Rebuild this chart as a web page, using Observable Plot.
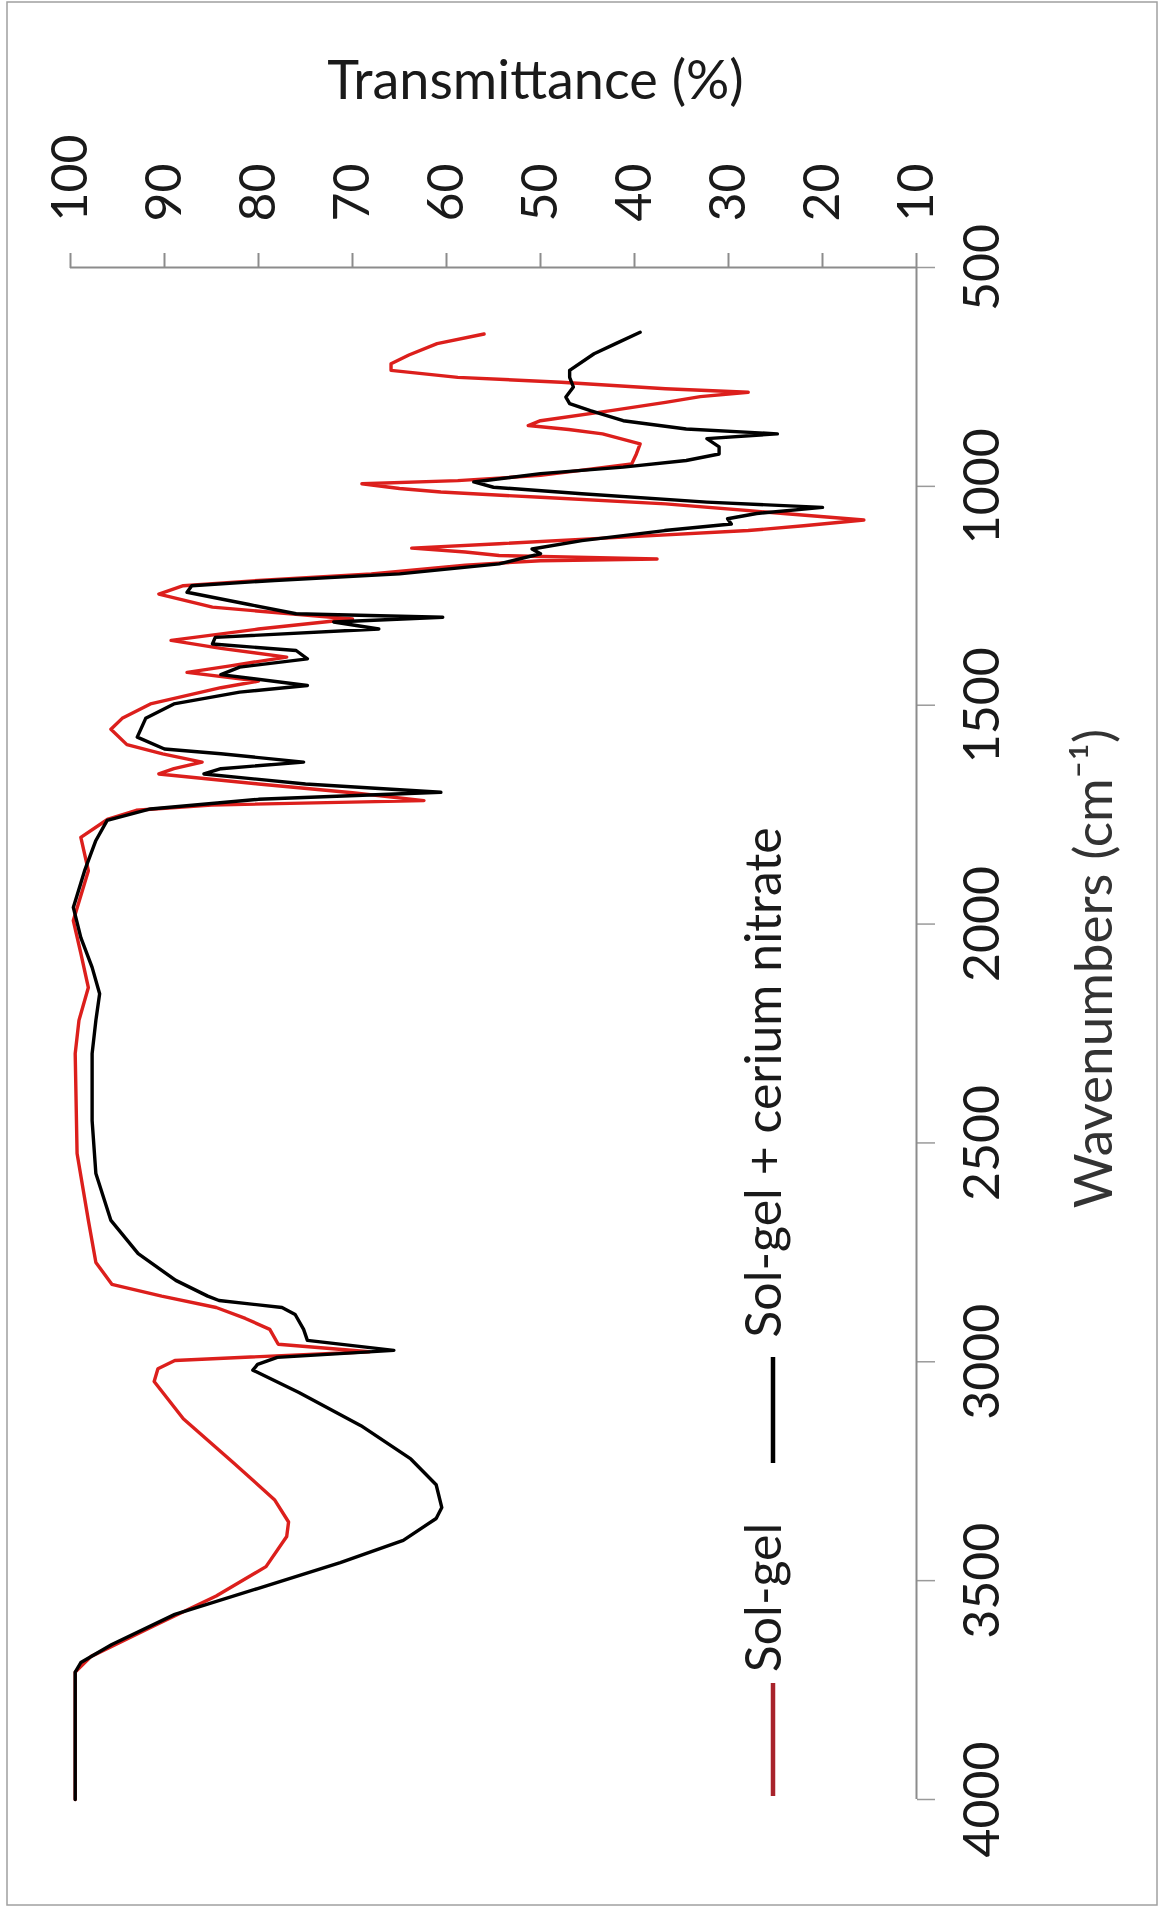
<!DOCTYPE html>
<html><head><meta charset="utf-8">
<script src="https://cdn.jsdelivr.net/npm/d3@7"></script>
<script src="https://cdn.jsdelivr.net/npm/@observablehq/plot@0.6"></script>
<style>html,body{margin:0;padding:0;background:#fff;} #chart{width:1161px;height:1910px;}</style>
</head><body><div id="chart"></div>
<script>
// Axis ticks
const transTicks = [100, 90, 80, 70, 60, 50, 40, 30, 20, 10];
const waveTicks = [500, 1000, 1500, 2000, 2500, 3000, 3500, 4000];

// Series names / colours
const seriesNames = ["Sol-gel", "Sol-gel + cerium nitrate"];
const seriesColors = ["#dc1f1c", "#000000"];

// Sol-gel (red): wavenumber (cm-1) and transmittance (%)
const solGelWn = [652,674,700,720,735,751,762,777,785,795,808,827,850,861,870,880,903,926,949,975,987,994,1005,1013,1025,1040,1063,1077,1090,1101,1116,1131,1141,1150,1158,1166,1170,1180,1200,1215,1227,1246,1276,1303,1326,1352,1370,1390,1410,1425,1445,1460,1497,1530,1555,1590,1611,1630,1645,1657,1680,1700,1718,1728,1740,1760,1802,1878,1992,2067,2145,2220,2296,2524,2677,2773,2823,2850,2876,2901,2926,2960,2977,2997,3016,3045,3130,3230,3315,3366,3399,3468,3535,3603,3673,3709,4000];
const solGelT = [56.0,61.0,64,65.9,65.9,58.8,47.8,36.7,27.9,33,36.7,42.5,50.0,51.3,47,43.4,39.4,39.8,40.3,50.0,58.8,69.0,65,60.6,50.0,36.7,23.5,15.6,22,27.9,41.2,54.4,63.7,58,54.4,37.6,50,58,68,80,88,90.6,84.9,70,80,89.3,84,77,83,87.6,80,84,91.5,94.5,95.7,94,90.2,86,89,90.6,80,70,62.4,85,93,96,98.9,98.1,99.7,98.9,98.1,99.1,99.5,99.3,98.1,97.3,95.6,90.3,84.5,81.4,78.8,77.9,68.2,88.9,90.7,91.1,88.0,82.7,78.3,76.8,77.0,79.2,84.5,91.1,97.8,99.5,99.5];

// Sol-gel + cerium nitrate (black)
const ceriumWn = [648,674,697,735,751,773,796,811,827,850,869,880,891,910,926,941,956,971,990,1002,1017,1036,1048,1062,1074,1086,1101,1124,1143,1154,1177,1200,1215,1227,1242,1270,1291,1299,1310,1326,1345,1360,1375,1394,1413,1430,1455,1470,1497,1530,1573,1600,1611,1630,1645,1657,1680,1699,1715,1737,1763,1809,1878,1962,2031,2099,2159,2220,2296,2449,2570,2677,2753,2814,2850,2860,2876,2892,2926,2951,2974,2990,3006,3019,3070,3146,3222,3281,3333,3358,3408,3459,3518,3577,3646,3687,3709,4000];
const ceriumT = [39.4,42.0,44.3,46.9,46.9,46.5,47.3,46.9,44.7,41.2,34.5,24.8,32.3,31.0,31.0,34.5,41.2,50.0,57.1,55,45.6,32.3,20.0,27,30.1,29.7,36.8,45.6,50.9,50.0,54.4,65,78.3,87.1,87.6,81,76,60.4,72,67.2,84.6,84.9,76,74.8,82,84,74.8,82,89,92,92.9,90,84,75.2,84,85.8,75,60.6,80,91.5,96.1,97.3,98.5,99.7,98.9,97.7,96.9,97.3,97.7,97.7,97.3,95.7,92.8,88.8,85.4,84.2,77.5,76.1,75.2,74.8,65.6,78,80.1,80.6,75.7,69.1,63.8,61.1,60.5,61.1,64.6,71.3,80.1,88.9,95.6,98.9,99.5,99.5];

const solGel = solGelWn.map((w, i) => ({w, t: solGelT[i]}));
const cerium = ceriumWn.map((w, i) => ({w, t: ceriumT[i]}));

const font = "Lato, sans-serif";
const ink = "#1a1a1a";
const axisGray = "#8c8c8c";

const chart = Plot.plot({
  width: 1161,
  height: 1910,
  marginTop: 267,
  marginRight: 245,
  marginBottom: 111,
  marginLeft: 70,
  style: {fontFamily: font, background: "#fff", overflow: "visible"},
  x: {domain: [100, 10], axis: null},
  y: {domain: [500, 4000], reverse: true, axis: null},
  marks: [
    Plot.axisX({anchor: "top", ticks: transTicks, tickSize: 15, tickFormat: () => "", label: null, stroke: axisGray, strokeWidth: 2}),
    Plot.axisY({anchor: "right", ticks: waveTicks, tickSize: 18, tickFormat: () => "", label: null, stroke: "#9a9a9a", strokeWidth: 1.5}),
    Plot.ruleY([500], {stroke: axisGray, strokeWidth: 2}),
    Plot.ruleX([10], {stroke: axisGray, strokeWidth: 2}),
    Plot.text(transTicks, {x: d => d, text: d => String(d), frameAnchor: "top", rotate: -90, textAnchor: "start", lineAnchor: "middle", dy: -46, fontSize: 50, fill: ink}),
    Plot.text(waveTicks, {y: d => d, text: d => String(d), frameAnchor: "right", rotate: -90, textAnchor: "middle", lineAnchor: "middle", dx: 66, fontSize: 50, fill: ink}),
    Plot.text(["Transmittance (%)"], {text: d => d, frameAnchor: "top", textAnchor: "middle", lineAnchor: "middle", dx: 42, dy: -186, fontSize: 54, fill: ink}),
    Plot.text(["Wavenumbers (cm⁻¹)"], {text: d => d, frameAnchor: "right", textAnchor: "middle", lineAnchor: "middle", dx: 179, dy: -65, rotate: -90, fontSize: 53, fill: "#333"}),
    Plot.text([seriesNames[0]], {text: d => d, frameAnchor: "top-left", textAnchor: "middle", lineAnchor: "middle", dx: 694, dy: 1330, rotate: -90, fontSize: 50, fill: ink}),
    Plot.text([seriesNames[1]], {text: d => d, frameAnchor: "top-left", textAnchor: "middle", lineAnchor: "middle", dx: 694, dy: 815, rotate: -90, fontSize: 50, fill: ink}),
    Plot.line(solGel, {x: "t", y: "w", stroke: seriesColors[0], strokeWidth: 3.4, strokeLinejoin: "round"}),
    Plot.line(cerium, {x: "t", y: "w", stroke: seriesColors[1], strokeWidth: 3.4, strokeLinejoin: "round"})
  ]
});

document.getElementById("chart").appendChild(chart);

// Legend swatches and outer border
const svg = d3.select(chart);
const swatches = [
  {color: "#a8232b", y1: 1683, y2: 1796},
  {color: seriesColors[1], y1: 1357, y2: 1463}
];
svg.append("g").selectAll("line").data(swatches).join("line")
  .attr("x1", 773).attr("x2", 773)
  .attr("y1", d => d.y1).attr("y2", d => d.y2)
  .attr("stroke", d => d.color).attr("stroke-width", 4.5);
svg.append("rect").attr("x", 7).attr("y", 2).attr("width", 1150).attr("height", 1903)
  .attr("fill", "none").attr("stroke", "#a0a0a0").attr("stroke-width", 1.5);
</script>
</body></html>
